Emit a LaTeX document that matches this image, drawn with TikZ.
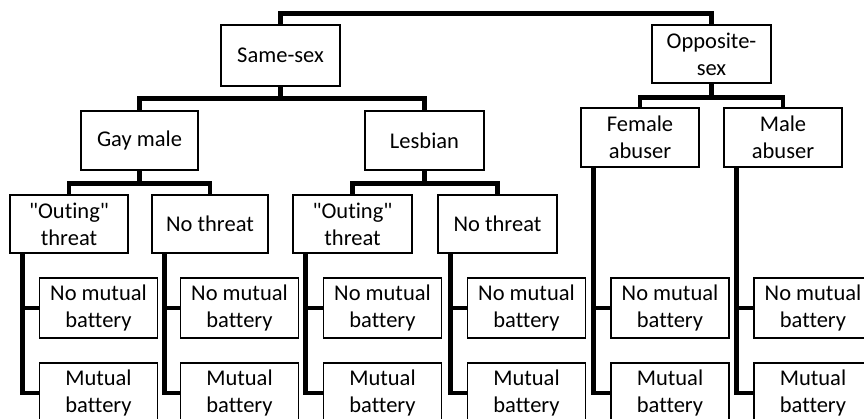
\documentclass[tikz,border=0pt]{standalone}
\usepackage{fontspec}
\setmainfont{Carlito}[Ligatures={TeX,NoCommon}]

\begin{document}
\begin{tikzpicture}[x=1pt,y=-1pt,
    box/.style={draw, line width=1.1pt, align=center, inner sep=0pt,
        font=\fontsize{22.5}{27}\selectfont},
    leaf/.style={box, minimum width=118pt, minimum height=60pt},
    link/.style={line width=4.5pt}]
\useasboundingbox (0,0) rectangle (864,418);

% top level
\node[box, minimum width=119pt, minimum height=61pt] (same) at (280.5,55.5) {Same-sex};
\node[box, minimum width=119pt, minimum height=58pt] (opp) at (711.5,54) {Opposite-\\sex};
\draw[link] (same.north) -- ++(0,-11) -| (opp.north);

% second level
\node[box, minimum width=117pt, minimum height=59pt] (gay) at (139.5,140.5) {Gay male};
\node[box, minimum width=119pt, minimum height=59pt] (les) at (424.5,140.5) {Lesbian};
\node[box, minimum width=118pt, minimum height=59pt] (fem) at (640,137.5) {Female\\abuser};
\node[box, minimum width=118pt, minimum height=59pt] (male) at (783,137.5) {Male\\abuser};
\draw[link] (same.south) -- ++(0,12) coordinate (samej);
\draw[link] (gay.north) |- (samej) -| (les.north);
\draw[link] (opp.south) -- ++(0,14) coordinate (oppj);
\draw[link] (fem.north) |- (oppj) -| (male.north);

% threat level
\node[box, minimum width=118pt, minimum height=58pt] (gayout) at (69,224) {\textquotedbl Outing\textquotedbl\\threat};
\node[box, minimum width=116pt, minimum height=58pt] (gaynt) at (210,224) {No threat};
\node[box, minimum width=119pt, minimum height=58pt] (lesout) at (352.5,224) {\textquotedbl Outing\textquotedbl\\threat};
\node[box, minimum width=119pt, minimum height=58pt] (lesnt) at (497.5,224) {No threat};
\draw[link] (gay.south) -- ++(0,13) coordinate (gayj);
\draw[link] (gayout.north) |- (gayj) -| (gaynt.north);
\draw[link] (les.south) -- ++(0,13) coordinate (lesj);
\draw[link] (lesout.north) |- (lesj) -| (lesnt.north);

% battery leaves
\foreach \p/\lx in {gayout/98.5, gaynt/239.5, lesout/382.5, lesnt/526.5, fem/670, male/813} {
    \node[leaf] (\p nm) at (\lx,308) {No mutual\\battery};
    \node[leaf] (\p m) at (\lx,393) {Mutual\\battery};
    \draw[link] ([xshift=13pt]\p.south west) |- (\p nm.west);
    \draw[link] ([xshift=13pt]\p.south west) |- (\p m.west);
}
\end{tikzpicture}
\end{document}
